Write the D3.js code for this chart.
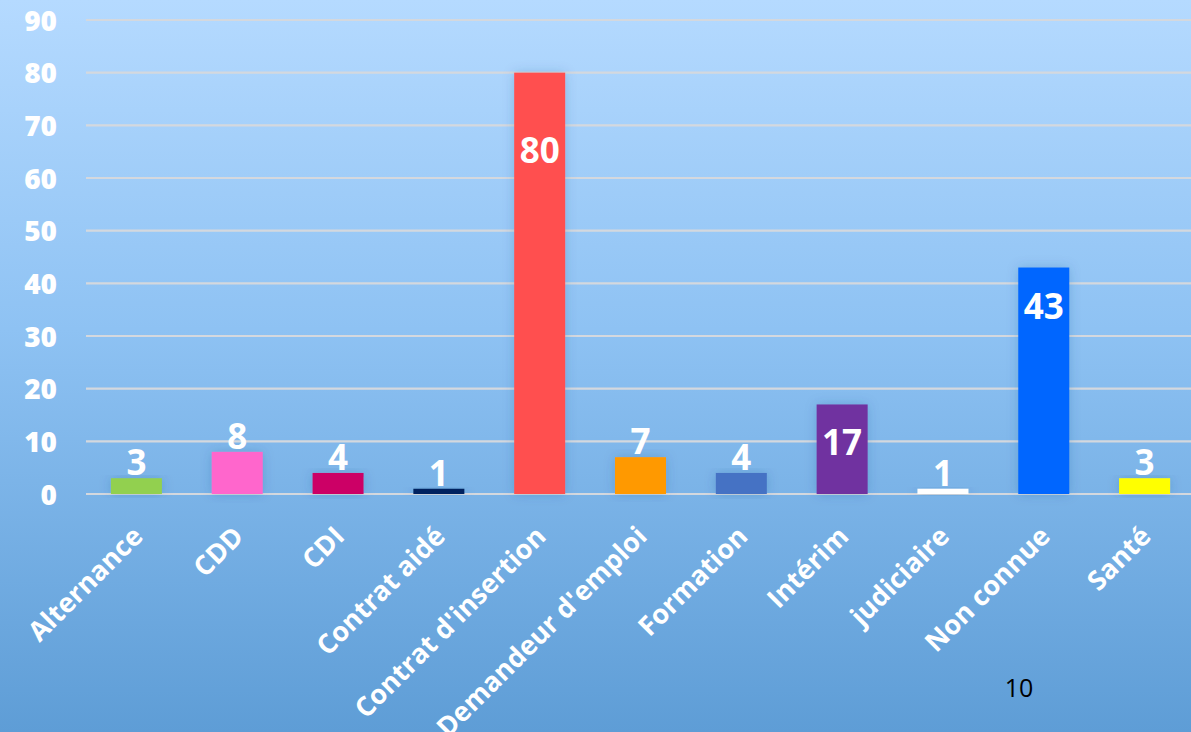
<!DOCTYPE html>
<html>
<head>
<meta charset="utf-8">
<script src="https://cdn.jsdelivr.net/npm/d3@7"></script>
<style>
  html, body { margin: 0; padding: 0; overflow: hidden; }
  svg { display: block; }
</style>
</head>
<body>
<svg id="chart" width="1191" height="732"></svg>
<script>
const categories = ["Alternance", "CDD", "CDI", "Contrat aidé", "Contrat d'insertion", "Demandeur d'emploi", "Formation", "Intérim", "judiciaire", "Non connue", "Santé"];
const values = [3, 8, 4, 1, 80, 7, 4, 17, 1, 43, 3];
const barColors = ["#92d050", "#ff66cc", "#cc0066", "#002060", "#ff5050", "#ff9900", "#4472c4", "#7030a0", "#ffffff", "#0066ff", "#ffff00"];
const yTicks = [0, 10, 20, 30, 40, 50, 60, 70, 80, 90];
const pageNumber = "10";

const W = 1191, H = 732;
const margin = { left: 86, right: -4, top: 20, bottom: 238 };
const svg = d3.select("#chart");

const defs = svg.append("defs");
const grad = defs.append("linearGradient").attr("id", "bg").attr("x1", 0).attr("y1", 0).attr("x2", 0).attr("y2", 1);
grad.append("stop").attr("offset", "0%").attr("stop-color", "#b5daff");
grad.append("stop").attr("offset", "45%").attr("stop-color", "#8ec2f3");
grad.append("stop").attr("offset", "100%").attr("stop-color", "#5e9dd6");
const shadow = defs.append("filter").attr("id", "sh").attr("x", "-40%").attr("y", "-20%").attr("width", "180%").attr("height", "140%");
shadow.append("feDropShadow").attr("dx", 0).attr("dy", 0).attr("stdDeviation", 6).attr("flood-color", "#1c4f86").attr("flood-opacity", 0.22);

svg.append("rect").attr("width", W).attr("height", H).attr("fill", "url(#bg)");

const x = d3.scaleBand().domain(categories).range([margin.left, W - margin.right]).paddingInner(0.494).paddingOuter(0.247);
const y = d3.scaleLinear().domain([0, 90]).range([H - margin.bottom, margin.top]);

// gridlines
svg.append("g").selectAll("line").data(yTicks).join("line")
  .attr("x1", margin.left).attr("x2", W)
  .attr("y1", d => y(d)).attr("y2", d => y(d))
  .attr("stroke", "#d4d8de").attr("stroke-width", 2.2);

// y axis labels
const yAxis = d3.axisLeft(y).tickValues(yTicks).tickSize(0).tickPadding(0);
const gy = svg.append("g").attr("transform", `translate(57,0)`).call(yAxis);
gy.select(".domain").remove();
gy.selectAll("text")
  .attr("fill", "#ffffff")
  .style("font-family", "'Open Sans', sans-serif")
  .style("font-weight", "800")
  .style("font-size", "28px")
  .attr("dy", "0.36em");

// bars
svg.append("g").selectAll("rect").data(values).join("rect")
  .attr("x", (d, i) => x(categories[i]))
  .attr("width", x.bandwidth())
  .attr("y", d => y(d))
  .attr("height", d => y(0) - y(d))
  .attr("fill", (d, i) => barColors[i])
  .attr("filter", "url(#sh)");

// value labels: small values sit above the bar, large ones inside near the top
const insideOffset = d => d >= 60 ? 90 : 51;
svg.append("g").selectAll("text").data(values).join("text")
  .attr("x", (d, i) => x(categories[i]) + x.bandwidth() / 2)
  .attr("y", d => d >= 15 ? y(d) + insideOffset(d) : y(d) - 3)
  .attr("text-anchor", "middle")
  .attr("fill", "#ffffff")
  .style("font-family", "'Open Sans', sans-serif")
  .style("font-weight", "700")
  .style("font-size", "35px")
  .text(d => d);

// x axis labels
const xAxis = d3.axisBottom(x).tickSize(0).tickPadding(0);
const gx = svg.append("g").attr("transform", `translate(0,${y(0)})`).call(xAxis);
gx.select(".domain").remove();
gx.selectAll("text")
  .attr("fill", "#ffffff")
  .style("font-family", "'Open Sans', sans-serif")
  .style("font-weight", "700")
  .style("font-size", "27px")
  .attr("text-anchor", "end")
  .attr("y", 0)
  .attr("dy", 0)
  .attr("transform", "translate(8,44) rotate(-45)");

// page number
svg.append("text")
  .attr("x", 1019).attr("y", 697)
  .attr("text-anchor", "middle")
  .attr("fill", "#000000")
  .style("font-family", "'Open Sans', sans-serif")
  .style("font-size", "25px")
  .text(pageNumber);
</script>
</body>
</html>
